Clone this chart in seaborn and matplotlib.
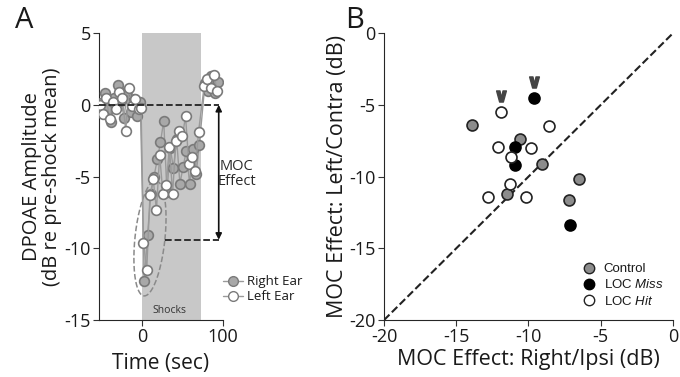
import numpy as np
import pandas as pd
import matplotlib
import matplotlib.pyplot as plt
import seaborn as sns
from matplotlib.lines import Line2D

# Panel A: DPOAE amplitude over time (dB re pre-shock mean)
right_time = [-50, -46, -42, -38, -34, -30, -26, -22, -18, -14, -10, -6, -2,
              3, 7, 11, 15, 19, 23, 27, 31, 35, 39, 43, 47, 51, 55, 59, 63, 67, 71,
              78, 82, 86, 90, 94]
right_amp = [0.1, 0.8, -0.3, -1.2, 0.5, 1.4, 0.3, -0.9, 1.0, -0.5, 0.4, -0.8, 0.2,
             -12.3, -9.1, -6.2, -5.0, -3.8, -2.6, -1.1, -6.1, -3.0, -4.4, -2.4, -5.5,
             -4.3, -3.2, -5.5, -3.1, -4.8, -2.8,
             1.5, 1.0, 2.0, 0.8, 1.6]
left_time = [-52, -48, -44, -40, -36, -32, -28, -24, -20, -16, -12, -8, -4, -1,
             2, 6, 10, 14, 18, 22, 26, 30, 34, 38, 42, 46, 50, 54, 58, 62, 66, 70,
             77, 81, 85, 89, 93]
left_amp = [0.0, -0.6, 0.5, -1.0, 0.2, -0.3, 0.9, 0.5, -1.8, 1.2, -0.1, 0.4, -0.3, -0.2,
            -9.6, -11.5, -6.3, -5.2, -7.3, -3.5, -6.2, -5.6, -2.9, -6.2, -2.5, -1.8,
            -2.2, -0.8, -4.1, -3.6, -4.6, -1.9,
            1.3, 1.8, 1.2, 2.1, 1.0]
shock_start, shock_end = 0, 73
moc_level = -9.4

# Panel B: MOC effect, right/ipsi vs left/contra (dB)
control_x = [-13.9, -10.6, -9.1, -6.5, -7.2, -11.5]
control_y = [-6.4, -7.4, -9.1, -10.2, -11.6, -11.2]
miss_x = [-9.6, -10.9, -10.9, -7.1]
miss_y = [-4.5, -7.9, -9.2, -13.4]
hit_x = [-11.9, -8.6, -12.1, -9.8, -11.2, -11.3, -12.8, -10.2]
hit_y = [-5.5, -6.5, -7.9, -8.0, -8.6, -10.5, -11.4, -11.4]
marked_x = [-11.9, -9.6]
marked_y = [-4.4, -3.4]

sns.set_style("ticks")
plt.rcParams['font.family'] = ['Open Sans', 'DejaVu Sans']
plt.rcParams['axes.unicode_minus'] = False
plt.rcParams['text.color'] = '#1a1a1a'
plt.rcParams['axes.labelcolor'] = '#1a1a1a'
plt.rcParams['mathtext.fontset'] = 'custom'
plt.rcParams['mathtext.it'] = 'Liberation Sans:italic'
plt.rcParams['mathtext.bf'] = 'DejaVu Sans:bold'
plt.rcParams['mathtext.rm'] = 'Liberation Sans'

fig = plt.figure(figsize=(6.8, 3.77), dpi=100)
axA = fig.add_axes([0.1456, 0.151, 0.182, 0.761])
axB = fig.add_axes([0.5647, 0.151, 0.425, 0.761])

# ---- Panel A ----
axA.axvspan(shock_start, shock_end, color='#c8c8c8', lw=0, zorder=0)
dfR = pd.DataFrame({'t': right_time, 'amp': right_amp})
dfL = pd.DataFrame({'t': left_time, 'amp': left_amp})
sns.lineplot(data=dfR, x='t', y='amp', ax=axA, color='#9a9a9a', lw=1, sort=False,
             estimator=None, marker='o', markersize=7, markerfacecolor='#a8a8a8',
             markeredgecolor='#7a7a7a', markeredgewidth=1.2, zorder=3)
sns.lineplot(data=dfL, x='t', y='amp', ax=axA, color='#9a9a9a', lw=1, sort=False,
             estimator=None, marker='o', markersize=7, markerfacecolor='white',
             markeredgecolor='#7a7a7a', markeredgewidth=1.2, zorder=4)

axA.plot([-53, 95], [0, 0], ls='--', color='#222222', lw=1.3, zorder=5)
axA.plot([28, 95], [moc_level, moc_level], ls='--', color='#222222', lw=1.3, zorder=5)
axA.annotate('', xy=(95, 0), xytext=(95, moc_level),
             arrowprops=dict(arrowstyle='<|-|>', color='#111111', lw=1.2,
                             mutation_scale=9, shrinkA=0, shrinkB=0),
             annotation_clip=False)
axA.text(117, -4.8, 'MOC\nEffect', ha='center', va='center', fontsize=10.5,
         color='#2a2a2a', linespacing=1.0)
axA.text(34.5, -14.3, 'Shocks', ha='center', va='center', fontsize=7.5, color='#333333')

# dashed ellipse around early shock points (drawn in pixel scale)
t = np.linspace(0, 2 * np.pi, 200)
phi = np.deg2rad(6)
a_px, b_px = 58, 15
u, v = b_px * np.cos(t), a_px * np.sin(t)
dx = u * np.cos(phi) + v * np.sin(phi)
dy = -u * np.sin(phi) + v * np.cos(phi)
axA.plot(10 + dx / 0.81, -9.3 + dy / 14.37, ls='--', color='#8a8a8a', lw=1.1, zorder=2)

axA.set_xlim(-53, 100)
axA.set_ylim(-15, 5)
axA.set_xticks([0, 100])
axA.set_yticks([5, 0, -5, -10, -15])
axA.tick_params(labelsize=13, length=4, color='#333333', labelcolor='#1a1a1a', pad=2)
axA.set_xlabel('Time (sec)', fontsize=15, labelpad=5)
axA.set_ylabel('DPOAE Amplitude\n(dB re pre-shock mean)', fontsize=14.5, labelpad=2,
               linespacing=1.0)
sns.despine(ax=axA)

handlesA = [Line2D([], [], color='#9a9a9a', lw=1, marker='o', markersize=7,
                   markerfacecolor='#a8a8a8', markeredgecolor='#7a7a7a'),
            Line2D([], [], color='#9a9a9a', lw=1, marker='o', markersize=7,
                   markerfacecolor='white', markeredgecolor='#7a7a7a')]
axA.legend(handlesA, ['Right Ear', 'Left Ear'], loc='lower left',
           bbox_to_anchor=(0.95, 0.035), frameon=False, fontsize=9.5,
           handlelength=1.5, handletextpad=0.3, labelspacing=0.15, borderpad=0)

# ---- Panel B ----
axB.plot([-20, 0], [-20, 0], ls='--', color='#222222', lw=1.5, zorder=1)
sns.scatterplot(x=control_x, y=control_y, ax=axB, s=62, color='#8c8c8c',
                edgecolor='#222222', linewidth=1.2, zorder=3)
sns.scatterplot(x=miss_x, y=miss_y, ax=axB, s=62, color='black',
                edgecolor='black', linewidth=1.2, zorder=3)
sns.scatterplot(x=hit_x, y=hit_y, ax=axB, s=62, color='white',
                edgecolor='#222222', linewidth=1.2, zorder=3)
axB.plot(marked_x, marked_y, ls='none', marker=r'$\mathbf{\vee}$', markersize=8,
         color='#444444', zorder=3)

axB.set_xlim(-20, 0)
axB.set_ylim(-20, 0)
axB.set_xticks([-20, -15, -10, -5, 0])
axB.set_yticks([0, -5, -10, -15, -20])
axB.tick_params(labelsize=13, length=4, color='#333333', labelcolor='#1a1a1a', pad=2)
axB.set_xlabel('MOC Effect: Right/Ipsi (dB)', fontsize=15.5, labelpad=2)
axB.set_ylabel('MOC Effect: Left/Contra (dB)', fontsize=15.5, labelpad=1)
sns.despine(ax=axB)

handlesB = [Line2D([], [], ls='none', marker='o', markersize=7.5, markerfacecolor='#8c8c8c',
                   markeredgecolor='#222222'),
            Line2D([], [], ls='none', marker='o', markersize=7.5, markerfacecolor='black',
                   markeredgecolor='black'),
            Line2D([], [], ls='none', marker='o', markersize=7.5, markerfacecolor='white',
                   markeredgecolor='#222222')]
axB.legend(handlesB, ['Control', 'LOC $\\it{Miss}$', 'LOC $\\it{Hit}$'],
           loc='lower right', bbox_to_anchor=(0.99, 0.02), frameon=False,
           prop={'family': 'Liberation Sans', 'size': 9.5}, handletextpad=0.1,
           labelspacing=0.25, borderpad=0)

fig.text(0.035, 0.945, 'A', fontsize=21, va='center', ha='center')
fig.text(0.522, 0.945, 'B', fontsize=21, va='center', ha='center')

fig.savefig('out.png', dpi=100)
